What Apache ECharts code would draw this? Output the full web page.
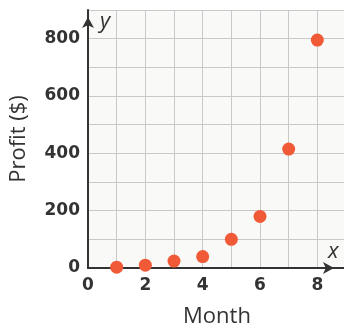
<!DOCTYPE html>
<html>
<head>
<meta charset="utf-8">
<script src="https://cdn.jsdelivr.net/npm/echarts@6/dist/echarts.min.js"></script>
<style>
  html, body { margin: 0; padding: 0; background: #ffffff; }
  #chart { width: 344px; height: 328px; }
</style>
</head>
<body>
<div id="chart"></div>
<script>
// Monthly profit, in dollars
const months = [1, 2, 3, 4, 5, 6, 7, 8];
const profit = [3, 10, 24, 40, 100, 180, 415, 795];

// Labelled ticks on each axis
const xTickLabels = [0, 2, 4, 6, 8];
const yTickLabels = [0, 200, 400, 600, 800];

const ink = '#333333';
const font = '"Open Sans", "Noto Sans", sans-serif';
const tickFont = '"DejaVu Sans", sans-serif';

const chart = echarts.init(document.getElementById('chart'), null, { renderer: 'canvas' });

chart.setOption({
  animation: false,
  backgroundColor: '#ffffff',
  grid: {
    left: 88,
    top: 10,
    width: 258,
    bottom: 60,
    containLabel: false,
    outerBoundsMode: 'none',
    show: true,
    backgroundColor: '#f9f9f7',
    borderWidth: 0
  },
  xAxis: {
    type: 'value',
    min: 0,
    max: 9,
    interval: 1,
    name: 'Month',
    nameLocation: 'middle',
    nameGap: 38,
    nameTextStyle: { color: ink, fontSize: 22, fontFamily: font },
    axisLine: {
      show: true,
      onZero: false,
      symbol: ['none', 'arrow'],
      symbolSize: [9, 11],
      symbolOffset: [0, -12],
      lineStyle: { color: ink, width: 2 }
    },
    axisTick: { show: false },
    axisLabel: {
      margin: 9,
      color: ink,
      fontSize: 17,
      fontWeight: 'bold',
      fontFamily: tickFont,
      formatter: v => (xTickLabels.includes(v) ? String(v) : '')
    },
    splitLine: { show: true, lineStyle: { color: '#c9c9c9', width: 1 } }
  },
  yAxis: {
    type: 'value',
    min: 0,
    max: 900,
    interval: 100,
    name: 'Profit ($)',
    nameLocation: 'middle',
    nameGap: 58,
    nameTextStyle: { color: ink, fontSize: 22, fontFamily: font },
    axisLine: {
      show: true,
      onZero: false,
      symbol: ['none', 'arrow'],
      symbolSize: [9, 11],
      symbolOffset: [0, -7],
      lineStyle: { color: ink, width: 2 }
    },
    axisTick: { show: false },
    axisLabel: {
      margin: 8,
      color: ink,
      fontSize: 17,
      fontWeight: 'bold',
      fontFamily: tickFont,
      formatter: v => (yTickLabels.includes(v) ? String(v) : '')
    },
    splitLine: { show: true, lineStyle: { color: '#c9c9c9', width: 1 } }
  },
  graphic: [
    {
      type: 'text',
      left: 100,
      top: 11,
      silent: true,
      style: { text: 'y', fill: ink, font: 'italic 22px ' + font }
    },
    {
      type: 'text',
      left: 328,
      top: 241,
      silent: true,
      style: { text: 'x', fill: ink, font: 'italic 22px ' + font }
    }
  ],
  series: [
    {
      type: 'scatter',
      data: months.map((m, i) => [m, profit[i]]),
      symbol: 'circle',
      symbolSize: 13,
      itemStyle: { color: '#f15a37', opacity: 1 },
      z: 5
    }
  ]
});
</script>
</body>
</html>
